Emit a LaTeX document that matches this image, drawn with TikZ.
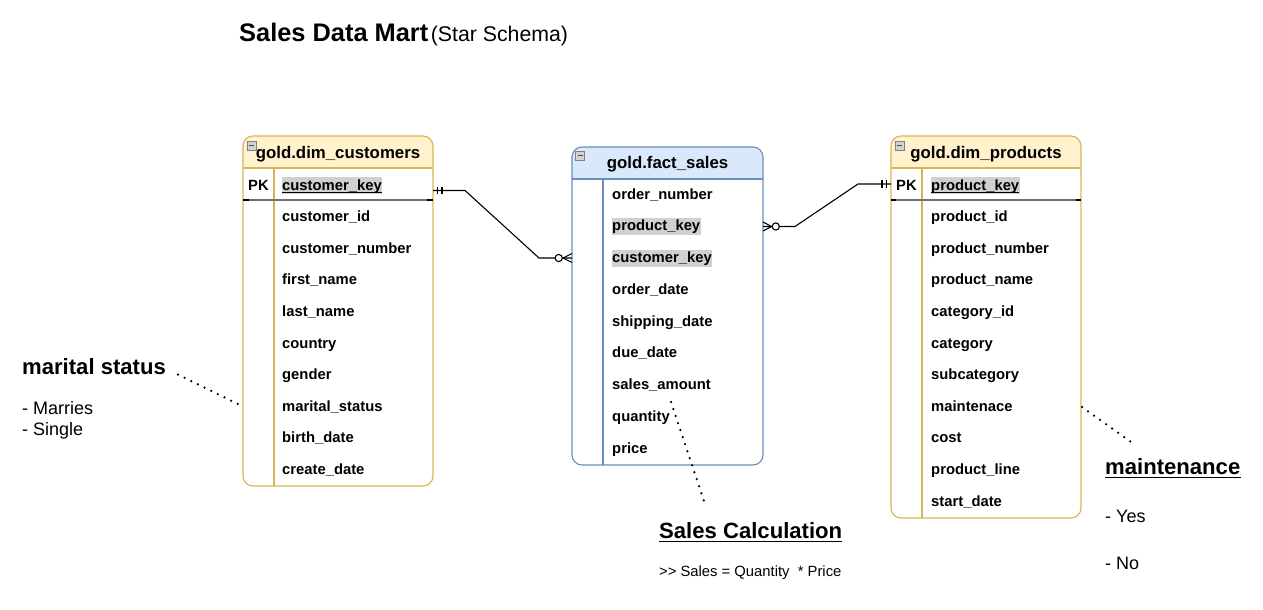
\documentclass[tikz,border=0pt]{standalone}
\usepackage{fontspec}
\setmainfont{Liberation Sans}
\usetikzlibrary{calc}
\definecolor{ybord}{HTML}{D6B656}
\definecolor{yfill}{HTML}{FFF2CC}
\definecolor{bbord}{HTML}{6C8EBF}
\definecolor{bfill}{HTML}{DAE8FC}
\definecolor{hlgray}{HTML}{D0D0D0}
\definecolor{pkline}{HTML}{707070}
\newcommand{\ertable}[8]{%
  \begin{scope}
    \clip[rounded corners=10pt] (#1,#2) rectangle (#3,#4);
    \fill[white] (#1,#2) rectangle (#3,#4);
    \fill[#8] (#1,#2) rectangle (#3,#5);
  \end{scope}
  \draw[#7, line width=1.1pt] (#1,#5) -- (#3,#5);
  \draw[#7, line width=1.1pt] (#6,#5) -- (#6,#4);
  \draw[#7, line width=1.1pt, rounded corners=10pt] (#1,#2) rectangle (#3,#4);
}
\tikzset{
  row/.style={anchor=base west, inner xsep=0pt, inner ysep=0pt, font=\fontsize{14.8}{17}\selectfont\bfseries},
  hl/.style={fill=hlgray, inner xsep=0.5pt, inner ysep=1pt, text height=12pt, text depth=3pt},
  hdr/.style={anchor=base, inner sep=0pt, font=\fontsize{16.8}{20}\selectfont\bfseries},
  collapse/.style={draw=gray, fill=gray!35, minimum size=9pt, inner sep=0pt,
     path picture={\draw[black!70, line width=1pt] ([xshift=2pt]path picture bounding box.west) -- ([xshift=-2pt]path picture bounding box.east);}},
  conn/.style={line width=1.1pt, black},
  dotline/.style={line width=2.5pt, dash pattern=on 0pt off 7.4pt, line cap=round, black},
  annhead/.style={anchor=base west, inner sep=0pt, font=\fontsize{22.1}{26}\selectfont\bfseries},
  annitem/.style={anchor=base west, inner sep=0pt, font=\fontsize{18}{22}\selectfont},
  uline/.style={line width=1.6pt, black}
}
\begin{document}
\begin{tikzpicture}[x=1pt,y=-1pt]
\fill[white] (0,0) rectangle (1263,610);
\useasboundingbox (0,0) rectangle (1263,610);

% title
\node[anchor=base west, inner sep=0pt, font=\fontsize{25.4}{30}\selectfont\bfseries] (title) at (239,42) {Sales Data Mart};
\node[anchor=base west, inner sep=0pt, font=\fontsize{21.3}{25}\selectfont] (subtitle) at ($(title.base east)+(2,0)$) {(Star Schema)};

% ---------- customers ----------
\ertable{243}{136}{433}{486}{168}{274}{ybord}{yfill}
\node[collapse] (cxc) at (251.5,145.5) {};
\node[hdr] (chead) at (338,158) {gold.dim\_customers};
\node[row] (cpk) at (248,190) {PK};
\node[row,hl] (ckey) at (281.5,190) {customer\_key};
\draw[line width=1.2pt] ([shift={(0.5pt,-2.5pt)}]ckey.base west) -- ([shift={(-0.5pt,-2.5pt)}]ckey.base east);
\draw[pkline, line width=2pt] (243,200) -- (433,200);
\draw[black, line width=2pt] (243,200) -- (249,200) (427,200) -- (433,200);
\foreach \t [count=\i from 1] in {customer\_id, customer\_number, first\_name, last\_name, country, gender, marital\_status, birth\_date, create\_date}
  \node[row] (c\i) at (282,{190+31.6*\i}) {\t};

% ---------- fact ----------
\ertable{572}{147}{763}{465}{179}{603}{bbord}{bfill}
\node[collapse] (fxc) at (580,155.5) {};
\node[hdr] (fhead) at (667.5,168) {gold.fact\_sales};
\node[row] (f0) at (612,199) {order\_number};
\node[row,hl] (f1) at (611.5,230.8) {product\_key};
\node[row,hl] (f2) at (611.5,262.6) {customer\_key};
\foreach \t [count=\i from 3] in {order\_date, shipping\_date, due\_date, sales\_amount, quantity, price}
  \node[row] (f\i) at (612,{199+31.75*\i}) {\t};

% ---------- products ----------
\ertable{891}{136}{1081}{518}{168}{922}{ybord}{yfill}
\node[collapse] (pxc) at (899.5,145.5) {};
\node[hdr] (phead) at (986,158) {gold.dim\_products};
\node[row] (ppk) at (896,190) {PK};
\node[row,hl] (pkey) at (930.5,190) {product\_key};
\draw[line width=1.2pt] ([shift={(0.5pt,-2.5pt)}]pkey.base west) -- ([shift={(-0.5pt,-2.5pt)}]pkey.base east);
\draw[pkline, line width=2pt] (891,200) -- (1081,200);
\draw[black, line width=2pt] (891,200) -- (896,200) (1076,200) -- (1081,200);
\foreach \t [count=\i from 1] in {product\_id, product\_number, product\_name, category\_id, category, subcategory, maintenace, cost, product\_line, start\_date}
  \node[row] (p\i) at (931,{190+31.6*\i}) {\t};

% ---------- connectors ----------
\coordinate (c-ck) at (433,190.5);
\coordinate (f-ck) at (572,258);
\coordinate (f-pk) at (763,226.5);
\coordinate (p-pk) at (891,184);

% customers -> fact
\draw[conn] (c-ck) -- ++(32,0) -- ($(f-ck)+(-33,0)$) -- (f-ck);
\draw[conn] ($(c-ck)+(4.5,-3.8)$) -- ++(0,7.6) ($(c-ck)+(9,-3.8)$) -- ++(0,7.6);
\draw[conn] ($(f-ck)+(-9,0)$) -- ($(f-ck)+(0,-4.5)$) ($(f-ck)+(-9,0)$) -- ($(f-ck)+(0,4.5)$);
\draw[conn, fill=white] ($(f-ck)+(-13.3,0)$) circle (3.6pt);

% fact -> products
\draw[conn] (f-pk) -- ++(32,0) -- ($(p-pk)+(-33,0)$) -- (p-pk);
\draw[conn] ($(p-pk)+(-4.5,-3.8)$) -- ++(0,7.6) ($(p-pk)+(-9,-3.8)$) -- ++(0,7.6);
\draw[conn] ($(f-pk)+(8.5,0)$) -- ($(f-pk)+(0,-4.5)$) ($(f-pk)+(8.5,0)$) -- ($(f-pk)+(0,4.5)$);
\draw[conn, fill=white] ($(f-pk)+(12.8,0)$) circle (3.6pt);

% ---------- annotations ----------
\node[annhead] (ms) at (22,374) {marital status};
\node[annitem] (ms1) at (22,414) {- Marries};
\node[annitem] (ms2) at (22,435) {- Single};
\coordinate (ms-a) at (178,374.5);
\coordinate (ms-b) at (240,405);
\draw[dotline] (ms-a) -- (ms-b);

\node[annhead] (sc) at (659,538) {Sales Calculation};
\draw[uline] ([yshift=-3.5pt]sc.base west) -- ([yshift=-3.5pt]sc.base east);
\node[anchor=base west, inner sep=0pt, font=\fontsize{14.8}{17}\selectfont] (sf) at (659,576) {\mbox{>}\mbox{>} Sales = Quantity \ * Price};
\coordinate (sc-a) at (671,402);
\coordinate (sc-b) at (706,507);
\draw[dotline] (sc-a) -- (sc-b);

\node[annhead] (mt) at (1105,474) {maintenance};
\draw[uline] ([yshift=-3.5pt]mt.base west) -- ([yshift=-3.5pt]mt.base east);
\node[annitem] (mt1) at (1105,522) {- Yes};
\node[annitem] (mt2) at (1105,569) {- No};
\coordinate (mt-a) at (1082,407);
\coordinate (mt-b) at (1131,442);
\draw[dotline] (mt-a) -- (mt-b);
\end{tikzpicture}
\end{document}
